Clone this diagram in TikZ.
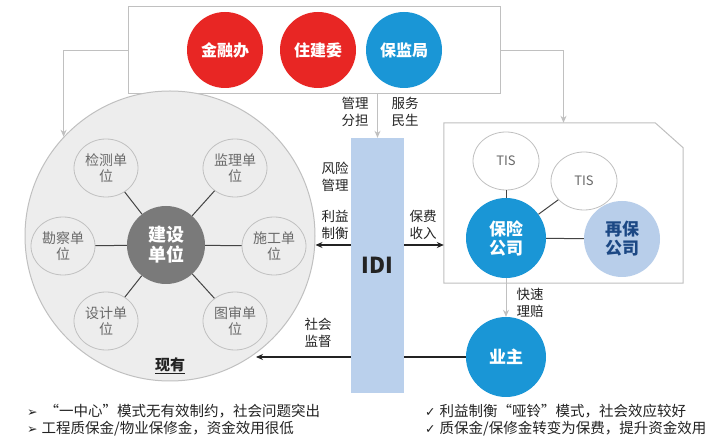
\documentclass[tikz,border=0pt]{standalone}
\usepackage{fontspec}
\setmainfont{Noto Sans CJK SC}
\newfontfamily\dejavu{DejaVu Sans}
\usetikzlibrary{arrows.meta,shapes.geometric,calc}
\definecolor{cred}{RGB}{232,38,36}
\definecolor{cblue}{RGB}{26,150,214}
\definecolor{cpale}{RGB}{184,206,234}
\definecolor{cdeep}{RGB}{28,72,132}
\definecolor{cidi}{RGB}{186,208,236}
\definecolor{cline}{RGB}{192,192,192}
\definecolor{cfill}{RGB}{237,237,237}
\definecolor{ctxt}{RGB}{105,105,105}
\definecolor{cdark}{RGB}{35,35,35}
\definecolor{ccore}{RGB}{122,122,122}
\begin{document}
\begin{tikzpicture}[x=1pt,y=-1pt,
  govcircle/.style={circle,minimum size=76pt,inner sep=0pt,text=white,font=\fontsize{16}{18}\selectfont\bfseries},
  unitbox/.style={ellipse,draw=cline,line width=0.8pt,fill=cfill,minimum width=64pt,minimum height=58pt,inner sep=0pt,align=center,text=ctxt,font=\fontsize{14}{16}\selectfont},
  tisbox/.style={ellipse,draw=cline,line width=0.8pt,fill=white,minimum width=66pt,minimum height=58pt,inner sep=0pt,text=ctxt,font=\fontsize{13}{15}\selectfont},
  bigbubble/.style={circle,minimum size=80pt,inner sep=0pt,align=center,font=\fontsize{17}{19}\selectfont\bfseries},
  sidelabel/.style={align=center,inner sep=0pt,text=cdark,font=\fontsize{13.5}{17}\selectfont},
  grayarrow/.style={draw=cline,line width=1pt,-{Stealth[length=7pt,width=6pt]}},
  blackarrow/.style={draw=cdark,line width=1.2pt,-{Stealth[length=7pt,width=6pt]}},
  blackline/.style={draw=cdark,line width=1.2pt},
  spoke/.style={draw=cdark!85,line width=1pt},
  bullettext/.style={anchor=west,inner sep=0pt,text=cdark,font=\fontsize{14.5}{17}\selectfont}
]
\useasboundingbox[fill=white] (0,0) rectangle (713,446);

% top box
\node[draw=cline,line width=1pt,minimum width=372pt,minimum height=87pt] (top) at (314,50.5) {};
\node[govcircle,fill=cred] (jrb) at (225,50) {金融办};
\node[govcircle,fill=cred] (zjw) at (318,50) {住建委};
\node[govcircle,fill=cblue] (bjj) at (404,50) {保监局};

% big circle and units
\node[circle,draw=cline,line width=1pt,fill=cfill,minimum size=290pt,inner sep=0pt] (big) at (170,236) {};
\node[circle,fill=ccore,minimum size=78pt,inner sep=0pt,align=center,text=white,font=\fontsize{18}{20}\selectfont\bfseries] (js) at (166,245) {建设\\单位};
\node[unitbox] (jc) at (106,168) {检测单\\位};
\node[unitbox] (jl) at (235,168) {监理单\\位};
\node[unitbox] (kc) at (63,246) {勘察单\\位};
\node[unitbox] (sg) at (274,246) {施工单\\位};
\node[unitbox] (sj) at (106,321) {设计单\\位};
\node[unitbox] (ts) at (235,321) {图审单\\位};
\foreach \u in {jc,jl,kc,sg,sj,ts} \draw[spoke] (js) -- (\u);
\node[inner sep=0pt,text=cdark,font=\fontsize{15}{17}\selectfont\bfseries] (xy) at (170,366) {\underline{现有}};

% IDI
\node[fill=cidi,minimum width=53pt,minimum height=255pt,inner sep=0pt,text=cdark,font=\fontsize{22}{24}\selectfont\bfseries] (idi) at (377.5,265.5) {IDI};

% right box
\node[minimum width=239pt,minimum height=160pt,inner sep=0pt] (rbox) at (563.5,203) {};
\draw[cline,line width=1pt] (rbox.north west) -- ($(rbox.north east)+(-28,0)$) -- ($(rbox.north east)+(0,25)$) -- (rbox.south east) -- (rbox.south west) -- cycle;
\node[tisbox] (tis1) at (506,161) {TIS};
\node[tisbox] (tis2) at (584,181) {TIS};
\node[bigbubble,fill=cblue,text=white] (bx) at (506,238) {保险\\公司};
\node[bigbubble,fill=cpale,text=cdeep,minimum size=76pt] (zb) at (622,239) {再保\\公司};
\draw[spoke] (tis1) -- (bx);
\draw[spoke] (tis2) -- (bx);
\draw[spoke] (bx) -- (zb);
\node[bigbubble,fill=cblue,text=white] (yz) at (506,357) {业主};

% connectors
\draw[grayarrow] (top.west) -| (big.137);
\draw[grayarrow] (top.east) -| (rbox.north);
\draw[grayarrow] (idi.north |- top.south) -- (idi.north);
\draw[grayarrow] (bx.south) -- (yz.north);
\coordinate (lvl) at (0,245);
\draw[blackarrow] (idi.west |- lvl) -- (big.east |- lvl);
\draw[blackarrow] (idi.east |- lvl) -- (rbox.west |- lvl);
\coordinate (sjend) at (256,357);
\draw[blackline] (yz.west) -- (idi.east |- yz.west);
\draw[blackarrow] (idi.west |- yz.west) -- (sjend);

% labels
\node[sidelabel] (l1) at (355,112) {管理\\分担};
\node[sidelabel] (l2) at (405,112) {服务\\民生};
\node[sidelabel] (l3) at (335,177) {风险\\管理};
\node[sidelabel] (l4) at (335,225) {利益\\制衡};
\node[sidelabel] (l5) at (423,225) {保费\\收入};
\node[sidelabel] (l6) at (318,333) {社会\\监督};
\node[sidelabel] (l7) at (530,303) {快速\\理赔};

% bottom notes
\node[bullettext] (b1) at (27,411) {{\dejavu\fontsize{12.5}{14}\selectfont ➢}\hspace{7pt}“一中心”模式无有效制约，社会问题突出};
\node[bullettext] (b2) at (27,429) {{\dejavu\fontsize{12.5}{14}\selectfont ➢}\hspace{4pt}工程质保金/物业保修金，资金效用很低};
\node[bullettext] (b3) at (425,411) {{\dejavu\fontsize{12.5}{14}\selectfont ✓}\hspace{4pt}利益制衡“哑铃”模式，社会效应较好};
\node[bullettext] (b4) at (425,429) {{\dejavu\fontsize{12.5}{14}\selectfont ✓}\hspace{4pt}质保金/保修金转变为保费，提升资金效用};
\end{tikzpicture}
\end{document}
